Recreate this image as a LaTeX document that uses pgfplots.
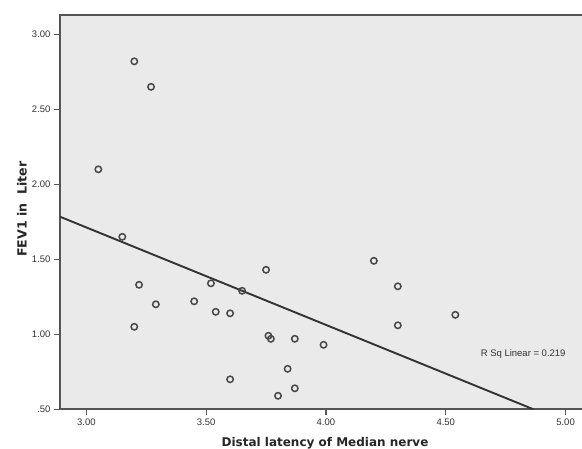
\documentclass[border=0pt]{standalone}
\usepackage{fontspec}
\setmainfont{Liberation Sans}
\newfontfamily\labfont{DejaVu Sans}
\usepackage{pgfplots}
\pgfplotsset{compat=1.18}
\definecolor{bg}{HTML}{EAEAEA}
\definecolor{ax}{HTML}{555555}
\definecolor{pt}{HTML}{484848}
\definecolor{txt}{HTML}{333333}
\begin{document}
\begin{tikzpicture}
\path[use as bounding box] (-60pt,-39.7pt) rectangle (522pt,409.3pt);
\clip (-60pt,-39.7pt) rectangle (522pt,409.3pt);
\begin{axis}[
  scale only axis, width=530pt, height=394.3pt,
  xmin=2.89, xmax=5.102, ymin=0.5, ymax=3.129,
  axis background/.style={fill=bg},
  axis line style={ax, line width=1.8pt},
  tick align=outside, major tick length=6pt,
  xtick pos=left, ytick pos=left,
  tick style={ax, line width=1.1pt},
  xtick={3,3.5,4,4.5,5}, xticklabels={3.00,3.50,4.00,4.50,5.00},
  ytick={0.5,1,1.5,2,2.5,3}, yticklabels={.50,1.00,1.50,2.00,2.50,3.00},
  ticklabel style={font=\fontsize{9.5}{10}\selectfont, text=txt},
  xlabel={Distal latency of Median nerve},
  ylabel={FEV1 in\ \ Liter},
  xlabel style={font=\labfont\bfseries\fontsize{12}{14}\selectfont, text=black!85,
    at={(axis description cs:0.5,-0.0931)}, anchor=base},
  ylabel style={font=\labfont\bfseries\fontsize{12.6}{14}\selectfont, text=black!85,
    at={(axis description cs:-0.0632,0.508)}, anchor=base},
]
\addplot[only marks, mark=o, mark size=3.2pt, mark options={pt, line width=1.5pt}] coordinates {
(3.20,2.82) (3.27,2.65) (3.05,2.10) (3.15,1.65) (3.22,1.33) (3.29,1.20)
(3.20,1.05) (3.45,1.22) (3.52,1.34) (3.65,1.29) (3.75,1.43) (4.20,1.49)
(3.54,1.15) (3.60,1.14) (3.76,0.99) (3.77,0.97) (3.87,0.97) (3.99,0.93)
(3.84,0.77) (3.60,0.70) (3.87,0.64) (3.80,0.59) (4.30,1.32) (4.30,1.06)
(4.54,1.13)
};
\addplot[color=black!80, line width=1.9pt] coordinates {(2.89,1.784) (4.866,0.5)};
\node[font=\fontsize{9.5}{10}\selectfont, text=txt] at (axis cs:4.823,0.869) {R Sq Linear = 0.219};
\end{axis}
\end{tikzpicture}
\end{document}
